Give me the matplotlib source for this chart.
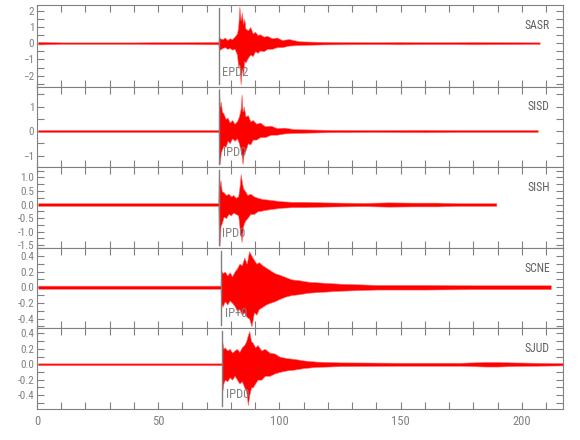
import numpy as np
import matplotlib
matplotlib.use('Agg')
import matplotlib.pyplot as plt
from matplotlib.ticker import MultipleLocator

plt.rcParams['font.family'] = ['Liberation Sans Narrow', 'DejaVu Sans Condensed',
                               'Roboto Condensed', 'DejaVu Sans']

GRAY = '#808080'

# station names, phase picks (s) and their labels
stations = ['SASR', 'SISD', 'SISH', 'SCNE', 'SJUD']
pick_times = [74.9, 75.1, 75.0, 75.9, 76.5]
pick_labels = ['EPD2', 'IPD0', 'IPD0', 'IP+0', 'IPD0']

# y limits / tick steps
y_limits = [(-2.7, 2.35), (-1.47, 1.8), (-1.6, 1.38), (-0.52, 0.5), (-0.58, 0.47)]
y_major = [1.0, 1.0, 0.5, 0.2, 0.2]
y_minor = [0.5, 0.5, 0.25, 0.1, 0.1]

# trace envelopes (time, upper, lower)
t_sasr = [0.5, 10, 20, 30, 40, 50, 60, 70, 74.8, 75.0, 75.5, 76.5, 77.5, 78.5, 79.5,
          80.5, 81.5, 82.5, 83.0, 83.5, 84.0, 84.5, 85.0, 85.5, 86.0, 87, 88, 89, 90, 91,
          92, 93.5, 95, 97, 99, 101, 104, 108, 112, 118, 125, 140, 150, 160, 170,
          180, 195, 207.4]
up_sasr = [0.08, 0.05, 0.05, 0.05, 0.05, 0.06, 0.06, 0.07, 0.07, 0.4, 0.3, 0.25, 0.35, 0.2, 0.3,
           0.25, 0.4, 0.6, 1.0, 2.25, 1.4, 1.9, 1.2, 1.5, 0.9, 0.8, 1.0, 0.6, 0.7, 0.5,
           0.55, 0.4, 0.45, 0.3, 0.35, 0.2, 0.25, 0.12, 0.1, 0.08, 0.07, 0.06, 0.07, 0.06, 0.06,
           0.07, 0.06, 0.05]
lo_sasr = [-0.08, -0.05, -0.05, -0.05, -0.05, -0.06, -0.06, -0.07, -0.07, -0.35, -0.4, -0.3, -0.25, -0.35, -0.3,
           -0.4, -0.35, -0.7, -1.5, -1.3, -2.55, -1.6, -2.0, -1.1, -1.2, -0.9, -0.7, -0.8, -0.5, -0.6,
           -0.45, -0.5, -0.35, -0.35, -0.25, -0.25, -0.15, -0.12, -0.1, -0.08, -0.07, -0.06, -0.07, -0.06, -0.06,
           -0.07, -0.06, -0.05]

t_sisd = [0.5, 20, 40, 60, 74.9, 75.1, 75.4, 75.8, 76.3, 77, 77.8, 78.6, 79.5, 80.5, 81.5,
          82.5, 83.3, 84.0, 84.4, 84.8, 85.3, 86, 87, 88, 89, 90.5, 92, 94, 96.5, 99,
          102, 106, 110, 120, 140, 160, 175, 190, 206.6]
up_sisd = [0.04, 0.04, 0.04, 0.04, 0.04, 1.74, 1.0, 1.2, 0.8, 0.7, 0.5, 0.55, 0.35, 0.45, 0.3,
           0.4, 0.6, 0.9, 1.5, 0.8, 1.0, 0.6, 0.65, 0.4, 0.45, 0.3, 0.35, 0.2, 0.22, 0.12,
           0.14, 0.08, 0.07, 0.05, 0.04, 0.05, 0.04, 0.04, 0.04]
lo_sisd = [-0.04, -0.04, -0.04, -0.04, -0.04, -1.0, -1.35, -0.9, -0.75, -0.6, -0.65, -0.4, -0.5, -0.3, -0.4,
           -0.3, -0.5, -0.8, -1.0, -1.35, -0.9, -0.8, -0.5, -0.55, -0.35, -0.35, -0.25, -0.25, -0.15, -0.15,
           -0.1, -0.08, -0.07, -0.05, -0.04, -0.05, -0.04, -0.04, -0.04]

t_sish = [0.5, 20, 40, 60, 74.8, 75.0, 75.3, 75.7, 76.2, 77, 78, 79, 80, 81, 82,
          83, 83.6, 84.0, 84.4, 85, 85.8, 86.8, 88, 89.5, 91, 93, 95.5, 98, 101, 105,
          110, 118, 125, 135, 145, 155, 165, 175, 189.5]
up_sish = [0.05, 0.05, 0.05, 0.05, 0.05, 1.27, 0.7, 0.9, 0.5, 0.45, 0.35, 0.4, 0.3, 0.35, 0.25,
           0.3, 0.7, 1.12, 0.9, 0.6, 0.5, 0.35, 0.4, 0.3, 0.25, 0.2, 0.18, 0.15, 0.12, 0.1,
           0.1, 0.08, 0.07, 0.06, 0.08, 0.07, 0.07, 0.05, 0.05]
lo_sish = [-0.05, -0.05, -0.05, -0.05, -0.05, -0.9, -1.53, -0.8, -0.7, -0.45, -0.5, -0.35, -0.4, -0.3, -0.35,
           -0.4, -0.9, -1.1, -1.38, -0.8, -0.6, -0.5, -0.35, -0.35, -0.25, -0.22, -0.18, -0.15, -0.12, -0.1,
           -0.1, -0.08, -0.07, -0.06, -0.08, -0.07, -0.07, -0.05, -0.05]

t_scne = [0.5, 20, 40, 60, 75.7, 75.9, 76.5, 77.5, 78.5, 79.5, 80.5, 81.5, 82.5, 83.5, 84.5,
          85.5, 86.5, 87.5, 88.5, 89.5, 90.5, 91.5, 93, 94.5, 96, 98, 100, 102.5, 105, 108,
          112, 117, 125, 140, 160, 180, 200, 212]
up_scne = [0.02, 0.02, 0.02, 0.02, 0.02, 0.22, 0.18, 0.2, 0.15, 0.19, 0.14, 0.2, 0.24, 0.3, 0.28,
           0.38, 0.3, 0.46, 0.4, 0.35, 0.3, 0.32, 0.28, 0.25, 0.22, 0.18, 0.16, 0.13, 0.1, 0.09,
           0.07, 0.06, 0.045, 0.03, 0.03, 0.025, 0.025, 0.025]
lo_scne = [-0.02, -0.02, -0.02, -0.02, -0.02, -0.2, -0.25, -0.18, -0.22, -0.17, -0.2, -0.24, -0.3, -0.28, -0.35,
           -0.32, -0.38, -0.4, -0.5, -0.32, -0.35, -0.28, -0.25, -0.22, -0.2, -0.18, -0.15, -0.12, -0.1, -0.09,
           -0.07, -0.06, -0.045, -0.03, -0.03, -0.025, -0.025, -0.025]

t_sjud = [0.5, 20, 40, 60, 76.3, 76.5, 76.9, 77.5, 78.5, 79.5, 80.5, 81.5, 82.5, 83.5, 84.5,
          85.5, 86.3, 87.0, 87.6, 88.3, 89, 90, 91, 92.5, 94, 96, 98, 100, 103, 106,
          110, 115, 125, 150, 175, 185, 190, 195, 205, 217]
up_sjud = [0.012, 0.012, 0.012, 0.012, 0.012, 0.28, 0.2, 0.22, 0.18, 0.2, 0.15, 0.18, 0.2, 0.16, 0.22,
           0.25, 0.3, 0.38, 0.43, 0.3, 0.28, 0.22, 0.25, 0.18, 0.2, 0.15, 0.14, 0.1, 0.08, 0.07,
           0.05, 0.035, 0.025, 0.02, 0.02, 0.03, 0.03, 0.025, 0.02, 0.015]
lo_sjud = [-0.012, -0.012, -0.012, -0.012, -0.012, -0.34, -0.25, -0.2, -0.22, -0.17, -0.2, -0.15, -0.2, -0.25, -0.22,
           -0.3, -0.35, -0.53, -0.4, -0.3, -0.3, -0.25, -0.2, -0.2, -0.15, -0.15, -0.12, -0.1, -0.08, -0.07,
           -0.05, -0.035, -0.025, -0.02, -0.02, -0.03, -0.03, -0.025, -0.02, -0.015]

traces = [(t_sasr, up_sasr, lo_sasr), (t_sisd, up_sisd, lo_sisd), (t_sish, up_sish, lo_sish),
          (t_scne, up_scne, lo_scne), (t_sjud, up_sjud, lo_sjud)]

# panel edges in pixels (top, bottom) of a 580x440 figure
W, H = 580, 440
left_px, right_px = 37, 563
panel_px = [(5, 87), (87, 167), (167, 248), (248, 328), (328, 409)]

fig = plt.figure(figsize=(5.8, 4.4), dpi=100)
axes = []
for i, (top, bot) in enumerate(panel_px):
    ax = fig.add_axes([left_px / W, 1 - bot / H, (right_px - left_px) / W, (bot - top) / H])
    axes.append(ax)
    t, up, lo = traces[i]
    ax.fill_between(t, lo, up, facecolor='#ff0000', edgecolor='#ff7070', linewidth=0.4, zorder=2)
    ax.axvline(pick_times[i], ymin=0.04, ymax=0.96, color=GRAY, lw=1.0, zorder=3)
    ax.text(pick_times[i] + 1.5, 0.18, pick_labels[i], transform=ax.get_xaxis_transform(),
            color=GRAY, fontsize=9, va='center', ha='left', zorder=4)
    ax.text(0.975, 0.75, stations[i], transform=ax.transAxes, color='#606060',
            fontsize=8.5, ha='right', va='center')

    ax.set_xlim(0, 217)
    ax.set_ylim(*y_limits[i])
    ax.xaxis.set_major_locator(MultipleLocator(50))
    ax.xaxis.set_minor_locator(MultipleLocator(10))
    ax.yaxis.set_major_locator(MultipleLocator(y_major[i]))
    ax.yaxis.set_minor_locator(MultipleLocator(y_minor[i]))
    ax.tick_params(which='both', direction='in', top=True, right=True, colors=GRAY,
                   labelsize=8, width=0.8, pad=2)
    ax.tick_params(which='major', length=5)
    ax.tick_params(which='minor', length=5)
    for sp in ax.spines.values():
        sp.set_color(GRAY)
        sp.set_linewidth(0.8)
    if i < len(panel_px) - 1:
        ax.tick_params(labelbottom=False)
    else:
        ax.tick_params(axis='x', pad=4, labelsize=9)

# plain one-decimal labels on the small-amplitude panels
for ax in axes[2:]:
    ax.yaxis.set_major_formatter(plt.FormatStrFormatter('%.1f'))

fig.savefig('out.png', dpi=100)
